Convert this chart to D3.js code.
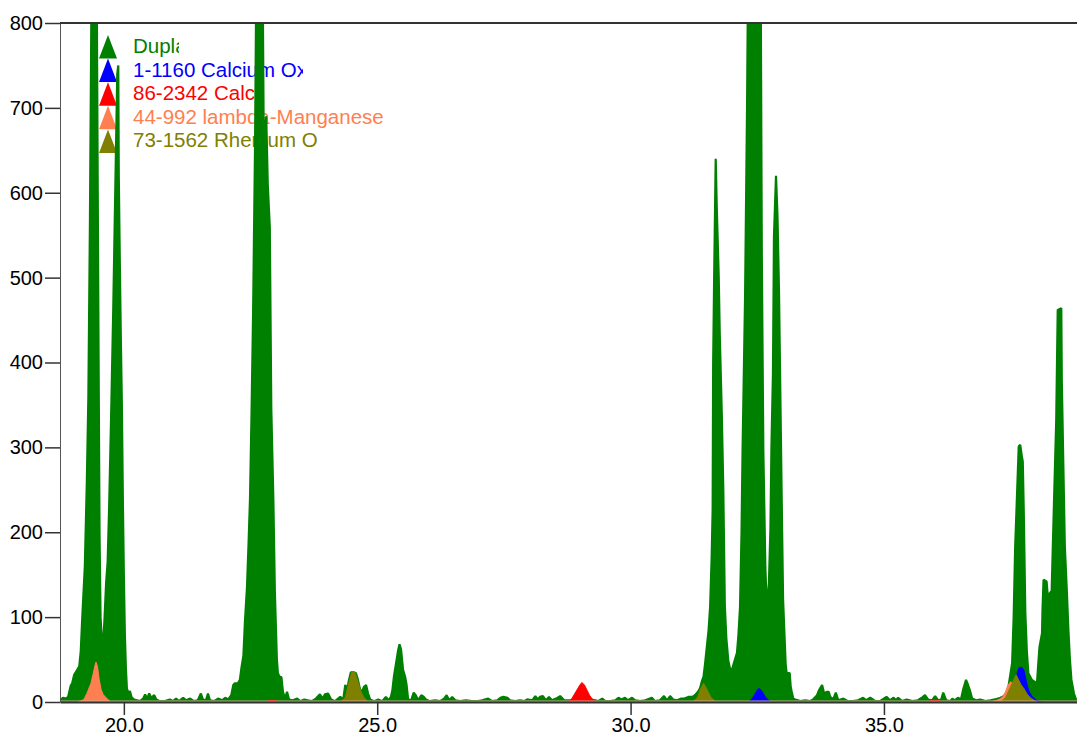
<!DOCTYPE html>
<html>
<head>
<meta charset="utf-8">
<script src="https://cdn.jsdelivr.net/npm/d3@7"></script>
<style>
  body { margin: 0; background: #fff; }
  svg { display: block; font-family: "Liberation Sans", Arial, sans-serif; }
</style>
</head>
<body>
<div id="chart"></div>
<script>
// legend entries (phase names as shown, cut off by the legend box)
const phaseNames = ['Dupla', '1-1160 Calcium Ox', '86-2342 Calc', '44-992 lambda-Manganese', '73-1562 Rhenium O'];
const phaseColors = ['#008000', '#0000ff', '#ff0000', '#ff7f50', '#808000'];

const xTicks = [20, 25, 30, 35];
const yTicks = [0, 100, 200, 300, 400, 500, 600, 700, 800];

// measured pattern: [2theta, counts]
const dupla = [
  [18.74,2],[18.80,5],[18.86,4],[18.90,6],[18.95,19],[18.98,22],[19.02,32],[19.08,38],[19.12,42],[19.15,60],
  [19.18,100],[19.23,160],[19.27,260],[19.30,360],[19.33,560],[19.36,820],[19.39,1150],[19.42,1500],[19.45,1100],[19.47,780],
  [19.50,420],[19.52,200],[19.54,100],[19.57,70],[19.59,65],[19.62,100],[19.65,140],[19.68,165],[19.71,230],[19.75,340],
  [19.79,460],[19.83,600],[19.87,740],[19.89,750],[19.90,620],[19.92,520],[19.94,430],[19.96,355],[19.98,240],[20.00,150],
  [20.02,80],[20.04,40],[20.06,16],[20.09,10],[20.12,13],[20.15,6],[20.20,3],[20.26,2],[20.32,1],[20.38,4],
  [20.42,9],[20.46,4],[20.50,10],[20.54,5],[20.60,8],[20.64,3],[20.71,1],[20.81,1],[20.91,3],[20.97,1],
  [21.03,4],[21.09,1],[21.17,5],[21.23,2],[21.31,4],[21.38,1],[21.46,2],[21.52,10],[21.56,3],[21.62,2],
  [21.66,10],[21.70,2],[21.78,1],[21.86,4],[21.94,2],[22.00,5],[22.06,3],[22.12,8],[22.16,20],[22.19,22],
  [22.25,22],[22.29,26],[22.32,40],[22.36,55],[22.39,95],[22.43,135],[22.46,185],[22.49,240],[22.52,340],[22.55,455],
  [22.59,660],[22.62,900],[22.65,1250],[22.68,1400],[22.71,1200],[22.74,850],[22.76,665],[22.79,680],[22.81,690],[22.84,610],
  [22.88,560],[22.91,345],[22.95,240],[22.98,130],[23.02,50],[23.04,34],[23.07,30],[23.11,29],[23.14,12],[23.18,4],
  [23.22,12],[23.26,3],[23.34,2],[23.42,4],[23.48,1],[23.56,3],[23.63,2],[23.71,1],[23.79,4],[23.87,9],
  [23.92,4],[23.97,9],[24.03,10],[24.09,3],[24.17,1],[24.27,6],[24.33,3],[24.37,20],[24.41,15],[24.44,25],
  [24.48,35],[24.54,35],[24.58,34],[24.62,26],[24.66,15],[24.70,12],[24.74,18],[24.78,20],[24.82,10],[24.86,3],
  [24.94,1],[25.02,3],[25.10,1],[25.17,6],[25.23,2],[25.27,6],[25.30,14],[25.33,30],[25.37,45],[25.41,60],
  [25.44,68],[25.47,62],[25.51,38],[25.55,30],[25.58,20],[25.61,3],[25.67,2],[25.72,11],[25.76,8],[25.81,2],
  [25.87,8],[25.92,6],[25.96,3],[26.04,1],[26.14,2],[26.24,1],[26.32,4],[26.37,8],[26.42,2],[26.48,6],
  [26.54,2],[26.64,1],[26.75,2],[26.87,1],[26.99,1],[27.07,2],[27.19,4],[27.27,1],[27.37,2],[27.43,5],
  [27.49,6],[27.57,5],[27.62,2],[27.72,1],[27.82,2],[27.90,1],[27.96,3],[28.06,2],[28.12,7],[28.17,3],
  [28.21,6],[28.27,7],[28.33,2],[28.39,6],[28.45,2],[28.53,4],[28.61,7],[28.69,2],[28.81,2],[28.91,3],
  [29.01,2],[29.10,2],[29.20,3],[29.30,2],[29.36,1],[29.44,4],[29.50,1],[29.60,1],[29.70,2],[29.76,5],
  [29.82,3],[29.89,5],[29.95,2],[30.03,5],[30.09,2],[30.19,1],[30.29,2],[30.42,5],[30.48,1],[30.58,2],
  [30.66,7],[30.72,2],[30.78,7],[30.84,3],[30.92,2],[31.00,4],[31.06,4],[31.14,6],[31.22,6],[31.27,8],
  [31.33,12],[31.37,16],[31.41,25],[31.44,30],[31.47,45],[31.50,62],[31.54,85],[31.57,112],[31.60,170],[31.62,227],
  [31.63,400],[31.65,503],[31.68,640],[31.70,585],[31.74,500],[31.76,433],[31.80,340],[31.83,250],[31.86,113],[31.89,75],
  [31.93,48],[31.96,40],[31.99,36],[32.03,44],[32.06,50],[32.10,58],[32.13,80],[32.16,112],[32.19,200],[32.21,296],
  [32.26,479],[32.30,709],[32.33,950],[32.37,1250],[32.41,1400],[32.45,1450],[32.49,1350],[32.53,1150],[32.57,820],[32.59,525],
  [32.62,296],[32.66,158],[32.69,110],[32.73,140],[32.76,204],[32.78,300],[32.81,388],[32.83,549],[32.87,620],[32.90,571],
  [32.93,480],[32.95,388],[32.99,204],[33.01,120],[33.04,75],[33.06,45],[33.08,34],[33.14,34],[33.16,18],[33.18,12],
  [33.21,4],[33.25,3],[33.35,1],[33.45,2],[33.54,1],[33.60,3],[33.68,8],[33.72,14],[33.78,20],[33.82,10],
  [33.87,12],[33.91,12],[33.94,6],[34.00,3],[34.05,11],[34.10,2],[34.20,4],[34.29,1],[34.39,1],[34.49,2],
  [34.59,5],[34.65,2],[34.73,5],[34.83,1],[34.92,1],[35.05,6],[35.12,2],[35.19,5],[35.24,2],[35.28,5],
  [35.36,1],[35.45,3],[35.56,1],[35.67,2],[35.75,5],[35.81,8],[35.87,3],[35.95,2],[36.01,7],[36.07,2],
  [36.13,3],[36.17,11],[36.23,2],[36.31,1],[36.35,4],[36.40,2],[36.46,5],[36.52,3],[36.56,14],[36.62,26],
  [36.66,20],[36.70,13],[36.74,4],[36.82,2],[36.90,3],[37.00,1],[37.10,2],[37.19,3],[37.30,5],[37.37,7],
  [37.45,15],[37.53,46],[37.56,100],[37.59,183],[37.63,250],[37.66,301],[37.69,303],[37.72,290],[37.74,283],[37.76,222],
  [37.79,105],[37.82,60],[37.85,34],[37.92,26],[37.97,24],[38.02,22],[38.04,40],[38.07,65],[38.12,81],[38.13,110],
  [38.15,144],[38.21,142],[38.24,120],[38.27,128],[38.31,131],[38.35,222],[38.40,332],[38.42,420],[38.43,462],[38.50,464],
  [38.51,379],[38.54,280],[38.57,183],[38.61,130],[38.64,85],[38.67,50],[38.70,26],[38.75,10],[38.79,3],[38.81,2]
];

// reference phase peaks: [2theta, counts]
const calciumOx = [
  [32.32,0],[32.40,4],[32.46,10],[32.51,15],[32.54,16],[32.59,13],[32.66,6],[32.72,2],[32.80,0],
  [37.45,0],[37.53,8],[37.59,22],[37.63,34],[37.66,40],[37.72,41],[37.76,38],[37.79,30],[37.83,19],[37.87,12],[37.93,6],[38.01,2],[38.11,0]
];
const calc = [
  [22.81,0],[22.89,3],[22.98,3],[23.04,0],
  [28.75,0],[28.83,3],[28.89,9],[28.95,15],[29.00,20],[29.04,23],[29.09,20],[29.14,14],[29.19,8],[29.25,3],[29.32,0],
  [35.87,0],[35.95,3],[36.05,3],[36.15,0]
];
const manganese = [
  [19.10,0],[19.21,3],[19.27,10],[19.35,22],[19.39,32],[19.43,43],[19.45,47],[19.48,42],[19.51,28],[19.55,15],[19.59,9],[19.65,5],[19.74,0],
  [37.10,0],[37.23,2],[37.30,4],[37.36,7],[37.40,12],[37.44,19],[37.50,24],[37.56,20],[37.62,10],[37.69,4],[37.79,0]
];
const rhenium = [
  [24.27,0],[24.37,5],[24.43,20],[24.50,36],[24.56,35],[24.63,22],[24.68,12],[24.73,6],[24.82,0],
  [31.22,0],[31.32,5],[31.37,14],[31.44,22],[31.48,18],[31.54,11],[31.59,5],[31.69,0],
  [37.30,0],[37.40,5],[37.50,18],[37.56,26],[37.61,32],[37.65,27],[37.71,20],[37.76,16],[37.83,9],[37.89,5],[38.02,0]
];
const seriesList = [dupla, calciumOx, calc, manganese, rhenium];

const width = 1077, height = 737;
const margin = { top: 23, right: 0, bottom: 35, left: 60 };

const x = d3.scaleLinear().domain([18.74, 38.81]).range([margin.left, width - margin.right]);
const y = d3.scaleLinear().domain([0, 800]).range([height - margin.bottom, margin.top]);

const svg = d3.select('#chart').append('svg')
  .attr('width', width)
  .attr('height', height)
  .attr('viewBox', [0, 0, width, height]);

const defs = svg.append('defs');
defs.append('clipPath').attr('id', 'plot-clip')
  .append('rect')
  .attr('x', margin.left).attr('y', margin.top)
  .attr('width', width - margin.left - margin.right)
  .attr('height', height - margin.top - margin.bottom);

// Legend (drawn first, the pattern sits over it)
const legendClip = [179, 303, 254, 400, 400];
const legend = svg.append('g');
phaseNames.forEach((name, i) => {
  const cy = 35 + i * 23.6;
  legend.append('path')
    .attr('d', `M108,${cy} L117,${cy + 23.5} L99,${cy + 23.5} Z`)
    .attr('fill', phaseColors[i]);
  defs.append('clipPath').attr('id', `lg-clip-${i}`)
    .append('rect')
    .attr('x', 120).attr('y', cy - 5)
    .attr('width', legendClip[i] - 120).attr('height', 30);
  legend.append('text')
    .attr('x', 133)
    .attr('y', 53 + i * 23.6)
    .attr('clip-path', `url(#lg-clip-${i})`)
    .style('font-size', '20.5px')
    .style('fill', phaseColors[i])
    .text(name);
});

// Pattern areas
const area = d3.area()
  .x(d => x(d[0]))
  .y0(y(0))
  .y1(d => y(d[1]));

const plot = svg.append('g').attr('clip-path', 'url(#plot-clip)');
seriesList.forEach((data, i) => {
  plot.append('path')
    .datum(data)
    .attr('d', area)
    .attr('fill', phaseColors[i])
    .attr('stroke', phaseColors[i])
    .attr('stroke-width', i === 0 ? 2.2 : 1)
    .attr('stroke-linejoin', 'bevel');
});

// faint baseline under the axis
svg.append('line')
  .attr('x1', margin.left).attr('x2', width)
  .attr('y1', y(0) - 1).attr('y2', y(0) - 1)
  .attr('stroke', '#d2a892').attr('stroke-width', 1);

// Axes
const yAxis = svg.append('g')
  .attr('transform', `translate(${margin.left},0)`)
  .call(d3.axisLeft(y).tickValues(yTicks).tickSize(15).tickSizeOuter(0).tickPadding(2));
yAxis.select('.domain').attr('stroke', '#555').attr('stroke-width', 1);
yAxis.selectAll('.tick line').attr('stroke', '#333').attr('stroke-width', 1.5);
yAxis.selectAll('.tick text')
  .style('font-size', '20px')
  .style('font-family', '"Liberation Sans", Arial, sans-serif')
  .attr('fill', '#000');

const xAxis = svg.append('g')
  .attr('transform', `translate(0,${y(0)})`)
  .call(d3.axisBottom(x).tickValues(xTicks).tickFormat(d3.format('.1f')).tickSize(13).tickSizeOuter(0).tickPadding(3));
xAxis.select('.domain').attr('stroke', '#333').attr('stroke-width', 1.8);
xAxis.selectAll('.tick line').attr('stroke', '#333').attr('stroke-width', 1.5);
xAxis.selectAll('.tick text')
  .style('font-size', '20px')
  .style('font-family', '"Liberation Sans", Arial, sans-serif')
  .attr('fill', '#000');

// Top frame line
svg.append('line')
  .attr('x1', margin.left).attr('x2', width)
  .attr('y1', margin.top).attr('y2', margin.top)
  .attr('stroke', '#333').attr('stroke-width', 2);
</script>
</body>
</html>
